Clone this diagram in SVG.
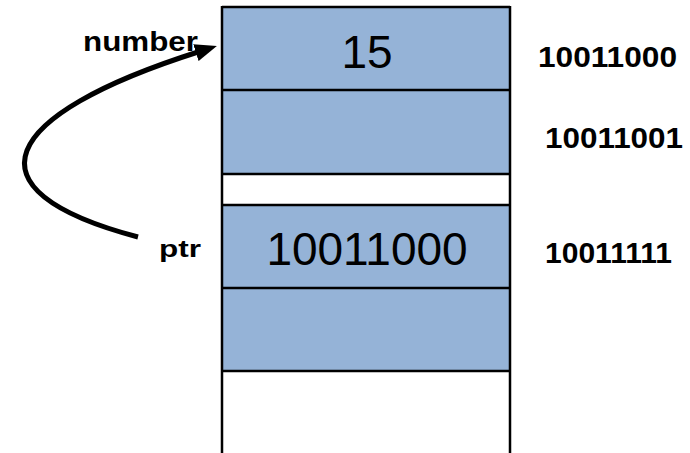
<svg xmlns="http://www.w3.org/2000/svg" width="690" height="453" viewBox="0 0 690 453">
<style>
.cell{fill:#95B3D7;stroke:none}
.line{stroke:#000;stroke-width:2.5;fill:none}
.val{font-family:"Liberation Sans",Arial,sans-serif;font-size:46px;fill:#000;text-anchor:middle}
.lbl{font-family:"Liberation Sans",Arial,sans-serif;font-weight:bold;fill:#000}
</style>
<defs>
<marker id="ah" markerUnits="userSpaceOnUse" markerWidth="22" markerHeight="18" refX="2" refY="8" orient="auto" viewBox="0 0 20 16">
<path d="M0,0 L20,8 L0,16 z" fill="#000"/>
</marker>
</defs>
<rect width="690" height="453" fill="#fff"/>
<g id="memory">
<g id="cell-number">
<rect class="cell" x="222" y="7" width="288" height="83"/>
<text class="val" x="367" y="68">15</text>
</g>
<g id="cell-2">
<rect class="cell" x="222" y="90" width="288" height="84"/>
</g>
<g id="cell-gap">
<rect x="222" y="174" width="288" height="31" fill="#fff"/>
</g>
<g id="cell-ptr">
<rect class="cell" x="222" y="205" width="288" height="83"/>
<text class="val" x="367" y="265">10011000</text>
</g>
<g id="cell-5">
<rect class="cell" x="222" y="288" width="288" height="83"/>
</g>
<g id="grid">
<line class="line" x1="222" y1="7" x2="510" y2="7"/>
<line class="line" x1="222" y1="90" x2="510" y2="90"/>
<line class="line" x1="222" y1="174" x2="510" y2="174"/>
<line class="line" x1="222" y1="205" x2="510" y2="205"/>
<line class="line" x1="222" y1="288" x2="510" y2="288"/>
<line class="line" x1="222" y1="371" x2="510" y2="371"/>
<line class="line" x1="222" y1="6" x2="222" y2="453"/>
<line class="line" x1="510" y1="6" x2="510" y2="453"/>
</g>
</g>
<g id="label-number"><text class="lbl" x="83" y="51" font-size="27" textLength="115" lengthAdjust="spacingAndGlyphs">number</text></g>
<g id="label-ptr"><text class="lbl" x="159" y="257" font-size="24" textLength="42" lengthAdjust="spacingAndGlyphs">ptr</text></g>
<g id="addr-1"><text class="lbl" x="538" y="67" font-size="30" textLength="139" lengthAdjust="spacingAndGlyphs">10011000</text></g>
<g id="addr-2"><text class="lbl" x="545" y="148" font-size="30" textLength="138" lengthAdjust="spacingAndGlyphs">10011001</text></g>
<g id="addr-3"><text class="lbl" x="545" y="263" font-size="30" textLength="127" lengthAdjust="spacingAndGlyphs">10011111</text></g>
<g id="connectors">
<path d="M138,237 C-40,190 0,115 198,52" fill="none" stroke="#000" stroke-width="5" marker-end="url(#ah)"/>
</g>
</svg>
